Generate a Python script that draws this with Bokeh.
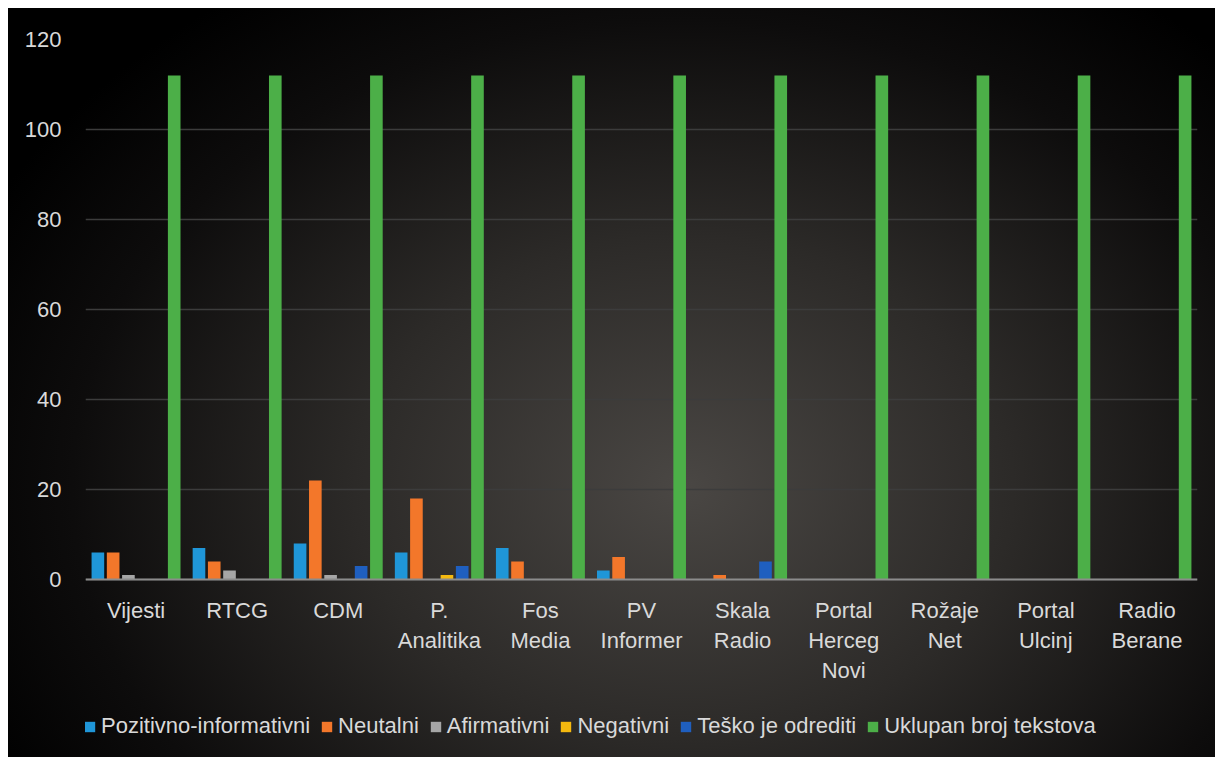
from bokeh.plotting import figure
from bokeh.models import FactorRange, Range1d, Legend, LegendItem, FixedTicker, Span
from bokeh.core.properties import value
from bokeh.transform import dodge
from bokeh.embed import file_html
from bokeh.resources import INLINE

categories = ["Vijesti", "RTCG", "CDM", "P.\nAnalitika", "Fos\nMedia", "PV\nInformer",
              "Skala\nRadio", "Portal\nHerceg\nNovi", "Rožaje\nNet", "Portal\nUlcinj", "Radio\nBerane"]
series_names = ["Pozitivno-informativni", "Neutalni", "Afirmativni", "Negativni",
                "Teško je odrediti", "Uklupan broj tekstova"]
pozitivno = [6, 7, 8, 6, 7, 2, 0, 0, 0, 0, 0]
neutalni = [6, 4, 22, 18, 4, 5, 1, 0, 0, 0, 0]
afirmativni = [1, 2, 1, 0, 0, 0, 0, 0, 0, 0, 0]
negativni = [0, 0, 0, 1, 0, 0, 0, 0, 0, 0, 0]
tesko = [0, 0, 3, 3, 0, 0, 4, 0, 0, 0, 0]
uklupan = [112, 112, 112, 112, 112, 112, 112, 112, 112, 112, 112]
y_ticks = [0, 20, 40, 60, 80, 100, 120]

colors = ["#1f96d8", "#f3772a", "#a6a6a6", "#f5b90f", "#1f5fbf", "#4caf48"]
offsets = [-0.3775, -0.2265, -0.0755, 0.0755, 0.2265, 0.3775]
values = [pozitivno, neutalni, afirmativni, negativni, tesko, uklupan]

FONT = "Liberation Sans"
TXT = "#d9d9d9"

# frame: 120 at top (31px), 0 at 571px, bottom of figure at 749px -> 4.5 px per unit
y_bottom = -(749 - 571) / 4.5

p = figure(x_range=FactorRange(*categories), y_range=Range1d(y_bottom, 120),
           width=1207, height=749, output_backend="svg", toolbar_location=None,
           x_axis_location=None,
           min_border_left=77, min_border_right=18, min_border_top=31, min_border_bottom=0)
p.styles = {"background": "radial-gradient(ellipse 65% 80% at 56% 64%, #4a4744 0%, #2c2a28 42%, #0d0c0c 78%, #000000 100%)",
            "margin-left": "8px", "margin-top": "8px"}
p.background_fill_color = None
p.border_fill_color = None
p.outline_line_color = None

data = {"cat": categories}
for i, v in enumerate(values):
    data["s%d" % i] = v

p.xgrid.grid_line_color = None
p.ygrid.grid_line_color = "#3c3c3c"
p.ygrid.grid_line_width = 1.5
p.yaxis.ticker = FixedTicker(ticks=y_ticks)

p.add_layout(Span(location=0, dimension="width", line_color="#8c8c8c", line_width=2))

items = []
for i in range(6):
    r = p.vbar(x=dodge("cat", offsets[i], range=p.x_range), top="s%d" % i, width=0.125,
               source=data, fill_color=colors[i], line_color=None)
    items.append(LegendItem(label=series_names[i], renderers=[r]))

p.text(x="cat", y=0, text="cat", source=data, y_offset=18,
       text_align="center", text_baseline="top", text_color=TXT,
       text_font=value(FONT), text_font_size="22px", text_line_height=1.2)

p.yaxis.axis_line_color = None
p.yaxis.major_tick_line_color = None
p.yaxis.minor_tick_line_color = None
p.yaxis.major_label_text_color = TXT
p.yaxis.major_label_text_font = FONT
p.yaxis.major_label_text_font_size = "22px"
p.yaxis.major_label_standoff = 18

legend = Legend(items=items, orientation="horizontal", location=(-2, 18),
                label_text_font=FONT, label_text_font_size="22px", label_text_color=TXT,
                glyph_width=13, glyph_height=13, label_standoff=5, spacing=10,
                padding=0, margin=0, background_fill_alpha=0, border_line_color=None)
p.add_layout(legend)

open("out.html", "w").write(file_html(p, INLINE))
